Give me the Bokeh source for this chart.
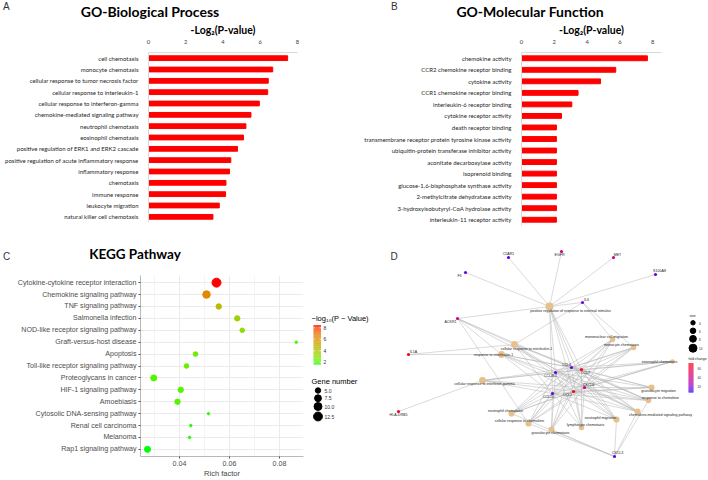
import numpy as np
from bokeh.plotting import figure
from bokeh.models import FactorRange, Range1d, FixedTicker, ColumnDataSource, Div
from bokeh.layouts import column, row
from bokeh.embed import file_html
from bokeh.resources import INLINE
from bokeh.core.properties import value

# ---------------- data ----------------
bp_terms = ["cell chemotaxis", "monocyte chemotaxis", "cellular response to tumor necrosis factor",
            "cellular response to interleukin-1", "cellular response to interferon-gamma",
            "chemokine-mediated signaling pathway", "neutrophil chemotaxis", "eosinophil chemotaxis",
            "positive regulation of ERK1 and ERK2 cascade",
            "positive regulation of acute inflammatory response", "inflammatory response",
            "chemotaxis", "immune response", "leukocyte migration", "natural killer cell chemotaxis"]
bp_values = [7.47, 6.67, 6.43, 6.40, 5.95, 5.50, 5.23, 5.10, 4.78, 4.42, 4.35, 4.16, 4.14, 3.80, 3.46]

mf_terms = ["chemokine activity", "CCR2 chemokine receptor binding", "cytokine activity",
            "CCR1 chemokine receptor binding", "interleukin-6 receptor binding",
            "cytokine receptor activity", "death receptor binding",
            "transmembrane receptor protein tyrosine kinase activity",
            "ubiquitin-protein transferase inhibitor activity", "aconitate decarboxylase activity",
            "isoprenoid binding", "glucose-1,6-bisphosphate synthase activity",
            "2-methylcitrate dehydratase activity", "3-hydroxyisobutyryl-CoA hydrolase activity",
            "interleukin-11 receptor activity"]
mf_values = [7.68, 5.75, 4.82, 3.45, 3.07, 2.44, 2.13, 2.13, 2.13, 2.13, 2.13, 2.13, 2.13, 2.13, 2.13]

go_ticks = [0, 2, 4, 6, 8]

kegg_terms = ["Cytokine-cytokine receptor interaction", "Chemokine signaling pathway",
              "TNF signaling pathway", "Salmonella infection", "NOD-like receptor signaling pathway",
              "Graft-versus-host disease", "Apoptosis", "Toll-like receptor signaling pathway",
              "Proteoglycans in cancer", "HIF-1 signaling pathway", "Amoebiasis",
              "Cytosolic DNA-sensing pathway", "Renal cell carcinoma", "Melanoma",
              "Rap1 signaling pathway"]
kegg_rich = [0.0548, 0.0508, 0.0557, 0.0631, 0.0651, 0.0867, 0.0464, 0.0428, 0.0297, 0.0405,
             0.0392, 0.0516, 0.0445, 0.0440, 0.0272]
kegg_logp = [8.4, 6.2, 4.4, 3.4, 3.0, 2.0, 2.4, 2.3, 2.0, 2.1, 2.1, 1.8, 1.7, 1.7, 1.6]
kegg_genes = [13, 9, 5, 5, 4, 3, 4, 4, 6, 5, 5, 3, 3, 3, 6]
kegg_x_ticks = [0.04, 0.06, 0.08]
kegg_x_minor = [0.03, 0.05, 0.07, 0.09]
kegg_color_ticks = [8, 6, 4, 2]
kegg_size_ticks = [5.0, 7.5, 10.0, 12.5]

# network (panel D): gene nodes (layout coordinates)
gene_names = ["C5AR1", "EGFR", "MET", "S100A8", "F3", "IL6", "ACKR1", "IL1A", "HLA-DRB5", "CXCL3",
              "CCL4", "CCL7", "CCL4L1", "CCL2", "CXCL8", "CCL20"]
gene_x = [508, 561, 613, 655, 465, 582, 457, 408, 398, 614, 571, 581, 555, 573, 584, 552]
gene_y = [257, 251, 257, 274, 272, 302, 318, 354, 411, 456, 367, 369, 372, 391, 387, 393]
gene_fc = [12, 38, 40, 12, 12, 14, 36, 68, 64, 12, 13, 66, 12, 66, 40, 12]

# network: GO term nodes (layout coordinates)
term_names = ["positive regulation of response to external stimulus",
              "cellular response to interleukin-1", "response to interleukin-1",
              "mononuclear cell migration", "monocyte chemotaxis", "eosinophil chemotaxis",
              "cellular response to interferon-gamma", "granulocyte migration",
              "response to chemokine", "chemokine-mediated signaling pathway",
              "neutrophil chemotaxis", "cellular response to chemokine", "granulocyte chemotaxis",
              "lymphocyte chemotaxis", "neutrophil migration"]
term_x = [549, 514, 501, 612, 633, 672, 482, 651, 648, 637, 511, 528, 551, 581, 616]
term_y = [306, 344, 354, 339, 347, 361, 380, 387, 400, 411, 413, 423, 429, 427, 419]
term_size = [10, 8, 8, 6, 6, 4, 8, 7, 6, 7, 7, 7, 7, 6, 7]
net_size_ticks = [4, 6, 8, 10]
net_fc_ticks = [60, 40, 20]

core_genes = ["CCL4", "CCL7", "CCL4L1", "CCL2", "CXCL8", "CCL20"]
edges = []
for g in ["C5AR1", "EGFR", "MET", "S100A8", "F3"]:
    edges.append((g, term_names[0]))
for t in [0, 1, 4, 3]:
    edges.append(("IL6", term_names[t]))
for t in [0, 1, 2, 8, 11, 9]:
    edges.append(("ACKR1", term_names[t]))
for t in [1, 2]:
    edges.append(("IL1A", term_names[t]))
edges.append(("HLA-DRB5", term_names[6]))
for t in [9, 14, 12, 10, 11, 8]:
    edges.append(("CXCL3", term_names[t]))
for g in core_genes:
    for t in term_names:
        edges.append((g, t))

# ---------------- colour helpers (Lab interpolation like ggplot) ----------------
M = np.array([[0.4124, 0.3576, 0.1805], [0.2126, 0.7152, 0.0722], [0.0193, 0.1192, 0.9505]])
WP = np.array([0.95047, 1.0, 1.08883])


def _rgb(h):
    return np.array([int(h[i:i + 2], 16) for i in (1, 3, 5)]) / 255.0


def _lin(c):
    return np.where(c <= 0.04045, c / 12.92, ((c + 0.055) / 1.055) ** 2.4)


def _delin(c):
    c = np.clip(c, 0, 1)
    return np.where(c <= 0.0031308, 12.92 * c, 1.055 * np.power(c, 1 / 2.4) - 0.055)


def _f(t):
    return np.where(t > (6 / 29) ** 3, np.cbrt(t), t / (3 * (6 / 29) ** 2) + 4 / 29)


def _finv(t):
    return np.where(t > 6 / 29, t ** 3, 3 * (6 / 29) ** 2 * (t - 4 / 29))


def to_lab(h):
    fx, fy, fz = _f(M @ _lin(_rgb(h)) / WP)
    return np.array([116 * fy - 16, 500 * (fx - fy), 200 * (fy - fz)])


def from_lab(lab):
    L, a, b = lab
    fy = (L + 16) / 116
    xyz = np.array([_finv(fy + a / 500), _finv(fy), _finv(fy - b / 200)]) * WP
    rgb = _delin(np.linalg.inv(M) @ xyz)
    return "#%02x%02x%02x" % tuple(int(round(v * 255)) for v in rgb)


def gradient(lo, hi, v, vmin, vmax):
    t = min(max((v - vmin) / (vmax - vmin), 0), 1)
    a, b = to_lab(lo), to_lab(hi)
    return from_lab(a + (b - a) * t)


def plain(p):
    p.outline_line_color = None
    p.grid.grid_line_color = None
    p.background_fill_color = "white"
    p.border_fill_color = "white"


def canvas(w, h, x0, y0):
    """A blank figure whose data units are page pixels (y downwards)."""
    p = figure(width=w, height=h, output_backend="svg", toolbar_location=None,
               x_range=Range1d(x0, x0 + w), y_range=Range1d(y0 + h, y0),
               x_axis_type=None, y_axis_type=None, min_border=0)
    plain(p)
    return p


GO_FONT = "Lato"
SANS = "Liberation Sans"
W_HALF, HEAD_H, TOP_H = 354, 20, 225


def header(title, title_cx, title_top, fs, letter, letter_x, letter_top, w, h):
    html = (
        f'<div style="position:relative;width:{w}px;height:{h}px;margin:0;padding:0;">'
        f'<span style="position:absolute;left:{title_cx}px;top:{title_top}px;'
        f'transform:translateX(-50%);font-family:{GO_FONT};font-weight:bold;font-size:{fs}px;'
        f'line-height:{fs}px;white-space:nowrap;color:#000;">{title}</span>'
        f'<span style="position:absolute;left:{letter_x}px;top:{letter_top}px;'
        f'font-family:\'{SANS}\';font-size:10px;line-height:10px;color:#333;">{letter}</span>'
        '</div>')
    return Div(text=html, width=w, height=h, margin=0)


def bar_panel(terms, values, x_end, left, fw, top, rowh):
    n = len(terms)
    fh = int(round(n * rowh))
    p = figure(width=W_HALF, height=TOP_H, output_backend="svg", toolbar_location=None,
               x_range=Range1d(0, x_end), y_range=FactorRange(factors=list(reversed(terms))),
               x_axis_location="above",
               min_border_left=left, min_border_right=W_HALF - left - fw,
               min_border_top=top, min_border_bottom=TOP_H - top - fh)
    plain(p)
    p.hbar(y=terms, right=values, left=0, height=0.42, color="#ff0000")
    xa = p.xaxis[0]
    xa.ticker = FixedTicker(ticks=go_ticks)
    xa.major_tick_line_color = None
    xa.minor_tick_line_color = None
    xa.axis_line_color = "#d9d9d9"
    xa.major_label_text_font = GO_FONT
    xa.major_label_text_font_size = "5.8px"
    xa.major_label_text_color = "#404040"
    xa.major_label_standoff = 3
    xa.axis_label = "-Log₂(P-value)"
    xa.axis_label_text_font = GO_FONT
    xa.axis_label_text_font_style = "bold"
    xa.axis_label_text_font_size = "10.5px"
    xa.axis_label_text_color = "#000000"
    xa.axis_label_standoff = 1
    ya = p.yaxis[0]
    ya.major_tick_line_color = None
    ya.axis_line_color = "#d9d9d9"
    ya.major_label_text_font = GO_FONT
    ya.major_label_text_font_size = "6px"
    ya.major_label_text_color = "#262626"
    ya.major_label_standoff = 4
    return p


hA = header("GO-Biological Process", 150, 5, 14, "A", 3, 2, W_HALF, HEAD_H)
pA = bar_panel(bp_terms, bp_values, 8.0, 148, 149, 32, 11.36)
hB = header("GO-Molecular Function", 176, 5, 14, "B", 37, 2, W_HALF, HEAD_H)
pB = bar_panel(mf_terms, mf_values, 8.54, 167, 140, 32, 11.52)

# ---------------- panel C ----------------
c_lo, c_hi = min(kegg_logp), max(kegg_logp)
g_lo, g_hi = min(kegg_genes), max(kegg_genes)


def gsize(n):
    return 2.5 + 6.5 * np.sqrt((n - g_lo) / (g_hi - g_lo))


C_W, C_H, C_HEAD = 308, 212, 23
C_LEFT, C_RIGHT, C_TOP, C_BOTTOM = 140, 5, 7, 23
hC = header("KEGG Pathway", 135, 3, 13.5, "C", 3, 7, C_W, C_HEAD)
pC = figure(width=C_W, height=C_H, output_backend="svg", toolbar_location=None,
            x_range=Range1d(0.0244, 0.0896),
            y_range=FactorRange(factors=list(reversed(kegg_terms)), range_padding=0.1,
                                range_padding_units="absolute"),
            min_border_left=C_LEFT, min_border_right=C_RIGHT, min_border_top=C_TOP,
            min_border_bottom=C_BOTTOM)
pC.outline_line_color = None
srcC = ColumnDataSource(dict(term=kegg_terms, rich=kegg_rich,
                             size=[gsize(n) for n in kegg_genes],
                             color=[gradient("#00ff00", "#ff0000", v, c_lo, c_hi) for v in kegg_logp]))
pC.scatter(x="rich", y="term", size="size", fill_color="color", line_color="color", source=srcC)
pC.xaxis.ticker = FixedTicker(ticks=kegg_x_ticks, minor_ticks=kegg_x_minor)
pC.xgrid.grid_line_color = "#ebebeb"
pC.xgrid.minor_grid_line_color = "#f4f4f4"
pC.ygrid.grid_line_color = "#ebebeb"
for ax in (pC.xaxis[0], pC.yaxis[0]):
    ax.axis_line_color = "#b8b8b8"
    ax.major_tick_line_color = "#555555"
    ax.major_tick_out = 2
    ax.major_tick_in = 0
    ax.minor_tick_line_color = None
    ax.major_label_text_font = SANS
    ax.major_label_text_font_size = "7.1px"
    ax.major_label_text_color = "#4d4d4d"
    ax.major_label_standoff = 2
pC.xaxis.major_label_standoff = 0
pC.xaxis.axis_label = "Rich factor"
pC.xaxis.axis_label_text_font = SANS
pC.xaxis.axis_label_text_font_style = "normal"
pC.xaxis.axis_label_text_font_size = "7.5px"
pC.xaxis.axis_label_standoff = 0
colC = column(hC, pC)

# ---------------- legend for C ----------------
pL = canvas(80, 235, 308, 245)
pL.text(x=[311], y=[318], text=["−log₁₀(P − Value)"], text_font=value(SANS),
        text_font_size="7.5px", text_baseline="middle", text_color="#000000")
cb_top, cb_px = 325.0, 5.75
vals = np.linspace(c_lo, c_hi, 69)
step = vals[1] - vals[0]
pL.quad(left=313, right=320.5,
        top=[cb_top + (c_hi - v - step) * cb_px for v in vals],
        bottom=[cb_top + (c_hi - v) * cb_px for v in vals],
        fill_color=[gradient("#00ff00", "#ff0000", v, c_lo, c_hi) for v in vals], line_color=None)
tick_y = [cb_top + (c_hi - v) * cb_px for v in kegg_color_ticks]
pL.segment(x0=313, x1=314.5, y0=tick_y, y1=tick_y, line_color="white", line_width=0.6)
pL.segment(x0=319, x1=320.5, y0=tick_y, y1=tick_y, line_color="white", line_width=0.6)
pL.text(x=323, y=tick_y, text=[str(v) for v in kegg_color_ticks], text_font=value(SANS),
        text_font_size="5px", text_baseline="middle", text_color="#333333")
pL.text(x=[311], y=[381], text=["Gene number"], text_font=value(SANS),
        text_font_size="7.5px", text_baseline="middle", text_color="#000000")
leg_y = [390, 397.7, 406, 416]
pL.scatter(x=317.5, y=leg_y, size=[gsize(v) for v in kegg_size_ticks], color="#000000")
pL.text(x=324, y=leg_y, text=["%.1f" % v for v in kegg_size_ticks], text_font=value(SANS),
        text_font_size="5px", text_baseline="middle", text_color="#333333")

# ---------------- panel D ----------------
pD = canvas(320, 235, 388, 245)
pos = {n: (x, y) for n, x, y in zip(gene_names, gene_x, gene_y)}
pos.update({n: (x, y) for n, x, y in zip(term_names, term_x, term_y)})
pD.segment(x0=[pos[a][0] for a, b in edges], y0=[pos[a][1] for a, b in edges],
           x1=[pos[b][0] for a, b in edges], y1=[pos[b][1] for a, b in edges],
           line_color="#b4b4b4", line_width=0.5)


def tsize(n):
    return 2.0 + 0.6 * n


fc_lo, fc_hi = 5, 70
pD.scatter(x=term_x, y=term_y, size=[tsize(s) for s in term_size], fill_color="#e6c18d",
           line_color=None)
pD.scatter(x=gene_x, y=gene_y, size=3.2,
           fill_color=[gradient("#0000ff", "#ff0000", v, fc_lo, fc_hi) for v in gene_fc],
           line_color=None)
g_dx = [0, -2, 4, 4, -6, 4, -7, 5, 0, 3, -5, 4, -5, -6, 4, -4]
g_dy = [-3.5, 3.5, -3, -3.5, 3.5, -3, 3.5, -2.5, 3.5, -3.5, -3, 3, 3.5, 3.5, -3, 3.5]
pD.text(x=[x + d for x, d in zip(gene_x, g_dx)], y=[y + d for y, d in zip(gene_y, g_dy)],
        text=gene_names, text_font=value(SANS), text_font_size="3.6px",
        text_align="center", text_baseline="middle", text_color="#222222")
t_dx = [21, 12, -8, -6, -12, -13, 2, 7, 12, 23, -6, -9, -1, 4, -16]
t_dy = [4, 4, 0, -3, -3, 0, 3.5, 3.5, -3, 3, -2.5, -2.5, 3.5, -2.5, -2]
pD.text(x=[x + d for x, d in zip(term_x, t_dx)], y=[y + d for y, d in zip(term_y, t_dy)],
        text=term_names, text_font=value(SANS), text_font_size="3.6px",
        text_align="center", text_baseline="middle", text_color="#222222")
pD.text(x=[390], y=[256], text=["D"], text_font=value(SANS), text_font_size="10px",
        text_baseline="middle", text_color="#333333")
# D legend
pD.text(x=[689], y=[315], text=["size"], text_font=value(SANS), text_font_size="3.5px",
        text_baseline="middle", text_color="#222222")
sl_y = [322.3, 330.3, 338.3, 347.7]
pD.scatter(x=692.5, y=sl_y, size=[tsize(v) for v in net_size_ticks], color="#000000")
pD.text(x=698.5, y=sl_y, text=[str(v) for v in net_size_ticks], text_font=value(SANS),
        text_font_size="3px", text_baseline="middle", text_color="#222222")
pD.text(x=[688], y=[358], text=["fold change"], text_font=value(SANS),
        text_font_size="3.5px", text_baseline="middle", text_color="#222222")
fc_top, fc_px = 363.0, 29.0 / (fc_hi - fc_lo)
fvals = np.linspace(fc_lo, fc_hi, 66)
fstep = fvals[1] - fvals[0]
pD.quad(left=688, right=693, top=[fc_top + (fc_hi - v - fstep) * fc_px for v in fvals],
        bottom=[fc_top + (fc_hi - v) * fc_px for v in fvals],
        fill_color=[gradient("#0000ff", "#ff0000", v, fc_lo, fc_hi) for v in fvals], line_color=None)
pD.text(x=697, y=[fc_top + (fc_hi - v) * fc_px for v in net_fc_ticks], text=[str(v) for v in net_fc_ticks],
        text_font=value(SANS), text_font_size="3px", text_baseline="middle",
        text_color="#222222")

layout = column(row(column(hA, pA), column(hB, pB)), row(colC, pL, pD))
open("out.html", "w").write(file_html(layout, INLINE))
